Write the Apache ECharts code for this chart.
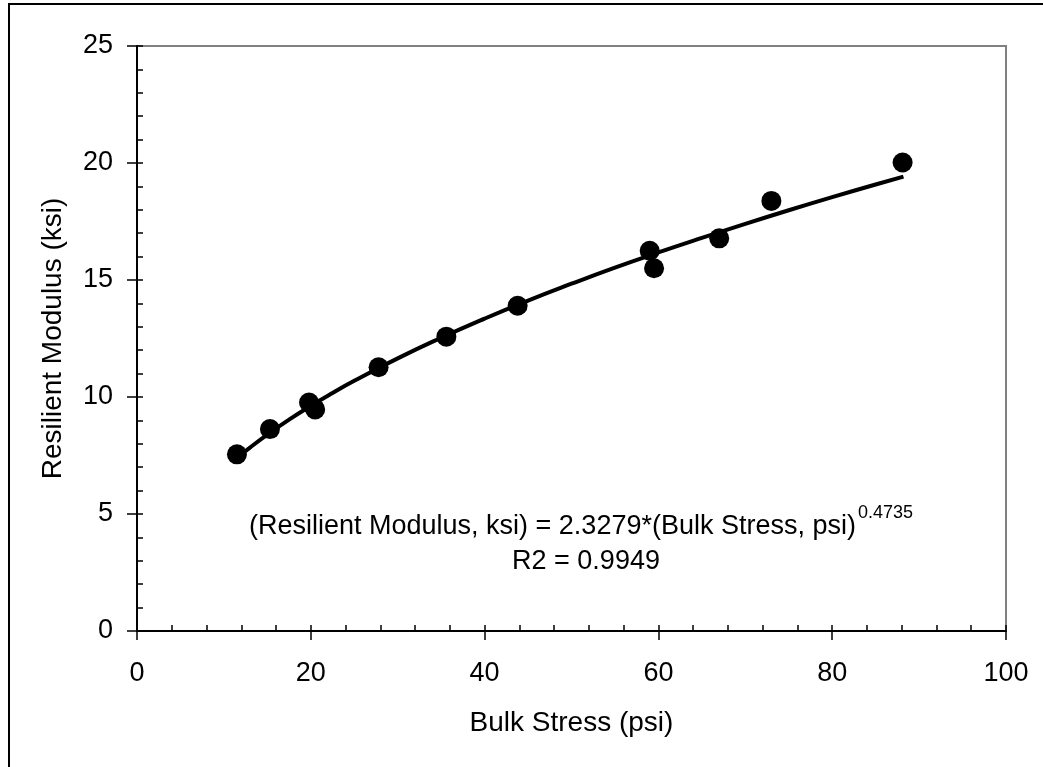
<!DOCTYPE html>
<html>
<head>
<meta charset="utf-8">
<title>Resilient Modulus vs Bulk Stress</title>
<script src="https://cdn.jsdelivr.net/npm/echarts@6/dist/echarts.min.js"></script>
<style>
  html, body { margin: 0; padding: 0; background: #fff; }
  #chart { width: 1043px; height: 767px; }
</style>
</head>
<body>
<div id="chart"></div>
<script>
// measured points
const stressPsi = [11.5, 15.3, 19.8, 20.5, 27.8, 35.6, 43.8, 59.0, 59.5, 67.0, 73.0, 88.1];
const modulusKsi = [7.55, 8.63, 9.76, 9.47, 11.27, 12.58, 13.90, 16.25, 15.50, 16.78, 18.38, 20.02];

// power trend line as drawn
const trendStress = [11.5, 13, 15, 17.5, 20, 22.5, 25, 30, 35, 40, 45, 50, 55, 60, 65, 70, 75, 80, 85, 88.2];
const trendModulus = [7.40, 7.84, 8.39, 9.03, 9.62, 10.17, 10.69, 11.65, 12.53, 13.35, 14.12, 14.84, 15.53, 16.18, 16.80, 17.40, 17.98, 18.54, 19.08, 19.42];

const xTicks = [0, 20, 40, 60, 80, 100];
const yTicks = [0, 5, 10, 15, 20, 25];

const eqText = '(Resilient Modulus, ksi) = 2.3279*(Bulk Stress, psi)';
const eqExp = '0.4735';
const r2Text = 'R2 = 0.9949';

const font = '"Liberation Sans", Arial, sans-serif';
const fs = 27;

let myChart = echarts.init(document.getElementById('chart'), null, { renderer: 'canvas' });

let points = stressPsi.map((x, i) => [x, modulusKsi[i]]);
let trend = trendStress.map((x, i) => [x, trendModulus[i]]);

let option = {
  backgroundColor: '#fff',
  animation: false,
  textStyle: { fontFamily: font, color: '#000' },
  grid: {
    left: 137, right: 37, top: 46, bottom: 136,
    show: true, borderColor: '#808080', borderWidth: 2, backgroundColor: '#fff'
  },
  xAxis: [{
    type: 'value',
    min: xTicks[0], max: xTicks[xTicks.length - 1], interval: 20,
    name: 'Bulk Stress (psi)', nameLocation: 'middle', nameGap: 78,
    nameTextStyle: { fontSize: 28, color: '#000', fontFamily: font },
    axisLine: { show: true, lineStyle: { color: '#000', width: 2 } },
    axisTick: { show: true, inside: false, length: 9, lineStyle: { color: '#000', width: 1.5 } },
    axisLabel: { fontSize: fs, color: '#000', margin: 29, fontFamily: font },
    splitLine: { show: false }
  }, {
    // minor ticks, inside
    type: 'value', position: 'bottom',
    min: 0, max: 100, interval: 4,
    axisLine: { show: false },
    axisTick: { show: true, inside: true, length: 6, lineStyle: { color: '#000', width: 1.5 } },
    axisLabel: { show: false },
    splitLine: { show: false }
  }],
  yAxis: [{
    type: 'value',
    min: yTicks[0], max: yTicks[yTicks.length - 1], interval: 5,
    name: 'Resilient Modulus (ksi)', nameLocation: 'middle', nameGap: 70,
    nameTextStyle: { fontSize: 28, color: '#000', fontFamily: font },
    axisLine: { show: true, lineStyle: { color: '#000', width: 2 } },
    axisTick: { show: true, inside: false, length: 10, lineStyle: { color: '#000', width: 1.5 } },
    axisLabel: { fontSize: fs, color: '#000', margin: 24, fontFamily: font },
    splitLine: { show: false }
  }, {
    type: 'value', position: 'left',
    min: 0, max: 25, interval: 1,
    axisLine: { show: false },
    axisTick: { show: true, inside: true, length: 6, lineStyle: { color: '#000', width: 1.5 } },
    axisLabel: { show: false },
    splitLine: { show: false }
  }],
  series: [{
    name: 'Trend',
    type: 'line',
    data: trend,
    smooth: true,
    showSymbol: false,
    lineStyle: { color: '#000', width: 4 },
    z: 2
  }, {
    name: 'Measured',
    type: 'scatter',
    data: points,
    symbol: 'circle',
    symbolSize: 20,
    itemStyle: { color: '#000', opacity: 1 },
    z: 3
  }],
  graphic: [{
    type: 'rect',
    shape: { x: 9, y: 4, width: 1100, height: 820 },
    style: { fill: 'none', stroke: '#000', lineWidth: 2 },
    silent: true, z: 100
  }, {
    type: 'text',
    x: 249, y: 527,
    style: { text: eqText, fontSize: fs, fontFamily: font, fill: '#000', textAlign: 'left', textVerticalAlign: 'middle' },
    z: 100
  }, {
    type: 'text',
    x: 858, y: 513,
    style: { text: eqExp, fontSize: 18, fontFamily: font, fill: '#000', textAlign: 'left', textVerticalAlign: 'middle' },
    z: 100
  }, {
    type: 'text',
    x: 586, y: 562,
    style: { text: r2Text, fontSize: fs, fontFamily: font, fill: '#000', textAlign: 'center', textVerticalAlign: 'middle' },
    z: 100
  }]
};

myChart.setOption(option);
</script>
</body>
</html>
